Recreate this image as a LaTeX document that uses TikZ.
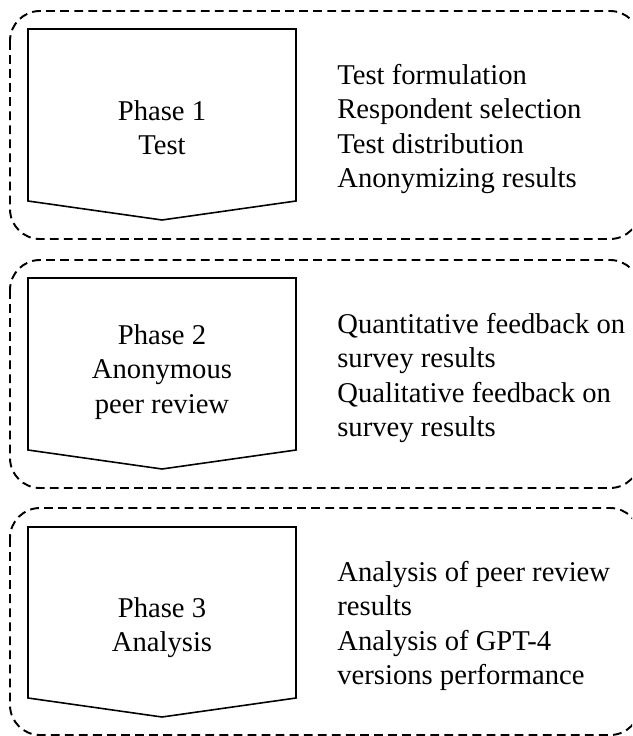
\documentclass[tikz,border=0pt]{standalone}
\usepackage{fontspec}
\setmainfont{Liberation Serif}
\usetikzlibrary{positioning}

\tikzset{
    frame/.style={line width=1.1pt, dash pattern=on 5pt off 3pt, rounded corners=0.6cm},
    chevron/.style={line width=0.9pt, line join=miter},
    phaselabel/.style={align=center, inner sep=0pt, font=\fontsize{16.3}{19.5}\selectfont},
    tasklist/.style={align=left, anchor=west, inner sep=0pt, font=\fontsize{16.3}{19.5}\selectfont}
}

\begin{document}
\begin{tikzpicture}[x=0.02cm, y=-0.02cm]
    \clip (0,0) rectangle (632,736);

    % Phase 1
    \draw[frame] (10,11) rectangle (640,239);
    \draw[chevron] (28,29) -- (296,29) -- (296,201) -- (162,220) -- (28,201) -- cycle;
    \node[phaselabel] (phase1) at (162,128) {Phase 1\\Test};
    \node[tasklist] (tasks1) at (337,129) {Test formulation\\Respondent selection\\Test distribution\\Anonymizing results};

    % Phase 2
    \draw[frame] (10,260) rectangle (640,488);
    \draw[chevron] (28,278) -- (296,278) -- (296,450) -- (162,469) -- (28,450) -- cycle;
    \node[phaselabel] (phase2) at (162,372) {Phase 2\\Anonymous\\peer review};
    \node[tasklist] (tasks2) at (337,378) {Quantitative feedback on\\survey results\\Qualitative feedback on\\survey results};

    % Phase 3
    \draw[frame] (10,508) rectangle (640,735);
    \draw[chevron] (28,527) -- (296,527) -- (296,698) -- (162,717) -- (28,698) -- cycle;
    \node[phaselabel] (phase3) at (162,628) {Phase 3\\Analysis};
    \node[tasklist] (tasks3) at (337,626) {Analysis of peer review\\results\\Analysis of GPT-4\\versions performance};
\end{tikzpicture}
\end{document}
